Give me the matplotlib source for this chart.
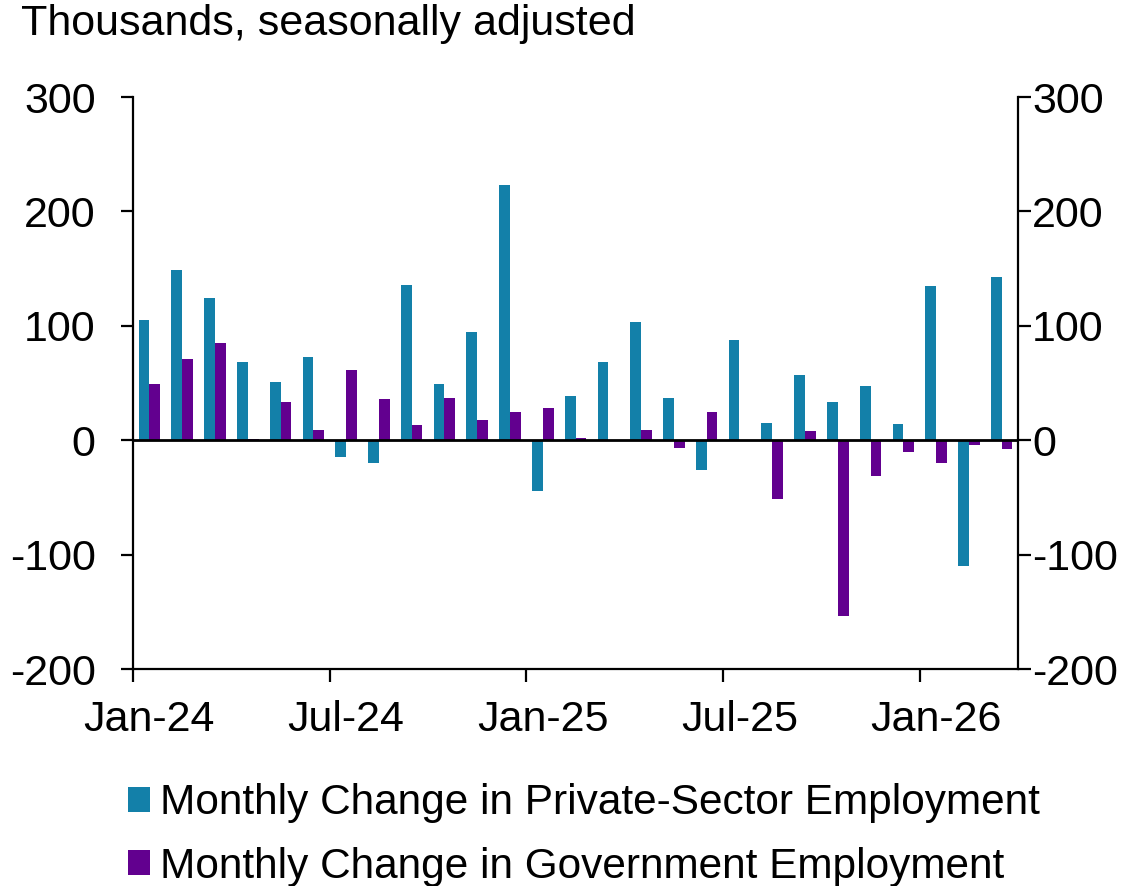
import matplotlib
matplotlib.use("Agg")
import matplotlib.pyplot as plt
import numpy as np

plt.rcParams['font.family'] = ['Liberation Sans', 'DejaVu Sans']

months = ["Jan-24", "Feb-24", "Mar-24", "Apr-24", "May-24", "Jun-24", "Jul-24", "Aug-24", "Sep-24",
          "Oct-24", "Nov-24", "Dec-24", "Jan-25", "Feb-25", "Mar-25", "Apr-25", "May-25", "Jun-25",
          "Jul-25", "Aug-25", "Sep-25", "Oct-25", "Nov-25", "Dec-25", "Jan-26", "Feb-26", "Mar-26"]
private = [105, 149, 124, 68, 51, 73, -15, -20, 136, 49, 95, 223, -44, 39, 68, 103, 37, -26,
           88, 15, 57, 33, 47, 14, 135, -110, 143]
government = [49, 71, 85, 1, 33, 9, 61, 36, 13, 37, 18, 25, 28, 2, 0, 9, -7, 25,
              -1, -51, 8, -154, -31, -10, -20, -4, -8]
tick_labels = ["Jan-24", "Jul-24", "Jan-25", "Jul-25", "Jan-26"]
label_series = ["Monthly Change in Private-Sector Employment", "Monthly Change in Government Employment"]

c_priv = "#1380A9"
c_gov = "#62008F"

fig = plt.figure(figsize=(11.43, 8.86), dpi=100)
ax = fig.add_axes([0.1164, 0.2449, 0.7743, 0.6456])

x = np.arange(len(months))
w = 0.33
ax.bar(x + 0.5 - w / 2, private, width=w, color=c_priv, label=label_series[0], zorder=2)
ax.bar(x + 0.5 + w / 2, government, width=w, color=c_gov, label=label_series[1], zorder=2)

ax.set_xlim(0, len(months))
ax.set_ylim(-200, 300)
ax.axhline(0, color="black", lw=2, zorder=3)

for s in ["left", "right", "bottom"]:
    ax.spines[s].set_linewidth(1.6)
    ax.spines[s].set_color("black")
ax.spines["top"].set_visible(False)

yt = [-200, -100, 0, 100, 200, 300]
ax.set_yticks(yt)
ax.set_yticklabels([str(v) for v in yt])
ax.tick_params(axis="y", which="major", direction="out", length=9, width=1.6,
               labelsize=31, pad=1, left=True, right=True, labelleft=True, labelright=True)

major_pos = [months.index(m) for m in tick_labels]
ax.set_xticks(major_pos)
ax.set_xticklabels([""] * len(major_pos))
ax.set_xticks([p + 0.5 for p in major_pos], minor=True)
ax.set_xticklabels(tick_labels, minor=True)
ax.tick_params(axis="x", which="major", direction="out", length=9, width=1.6)
ax.tick_params(axis="x", which="minor", length=0, labelsize=31, pad=22)

# left tick labels with a larger pad
for t in ax.yaxis.get_major_ticks():
    t.label1.set_transform(t.label1.get_transform() + matplotlib.transforms.ScaledTranslation(-17 / 72, 0, fig.dpi_scale_trans))

fig.text(0.018, 0.995, "Thousands, seasonally adjusted", fontsize=31, ha="left", va="top")

fig.legend(loc="upper left", bbox_to_anchor=(0.097, 0.135), ncol=1, frameon=False,
           fontsize=30.5, handlelength=0.52, handleheight=0.52, handletextpad=0.24, labelspacing=0.55,
           borderaxespad=0, bbox_transform=fig.transFigure)

fig.savefig("out.png", dpi=100)
